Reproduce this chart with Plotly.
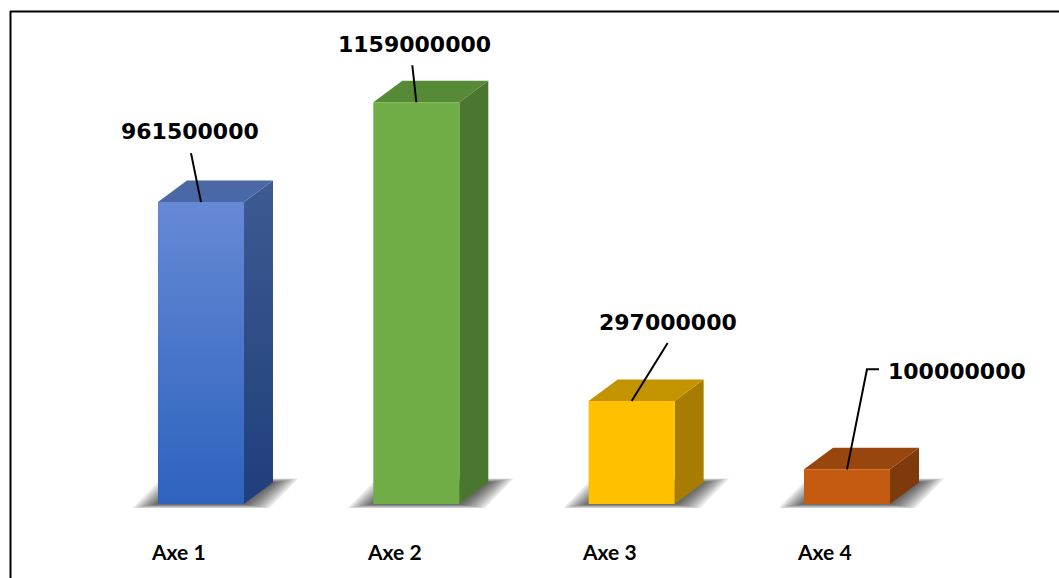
import plotly.graph_objects as go

# ---------------- data ----------------
categories = ["Axe 1", "Axe 2", "Axe 3", "Axe 4"]
values = [871e6, 1159e6, 297e6, 100e6]          # bar heights as drawn
value_labels = ["961500000", "1159000000", "297000000", "100000000"]

front_top = ["#6589d5", "#70ad47", "#ffc000", "#c55a11"]
front_bot = ["#2e62bd", "#70ad47", "#ffc000", "#c55a11"]
side_top = ["#3e5a92", "#4b7630", "#a67d00", "#7f3a0b"]
side_bot = ["#1f3e7c", "#4b7630", "#a67d00", "#7f3a0b"]
top_col = ["#4a67a6", "#578a37", "#c49300", "#99450e"]

# ---------------- geometry ----------------
W, H = 1059, 578
X0, X1 = -0.9334, 3.9846
Y0, Y1 = -213.5e6, 1454e6
SX = W / (X1 - X0)          # px per x unit
SY = H / (Y1 - Y0)          # px per y unit


def dxu(p):
    return p / SX


def dyu(p):
    return p / SY


HALF = dxu(43)
DX = dxu(29)
DY = dyu(21.5)

# label offsets (px, right / up) from front-top centre of each bar
label_off = [(-11, 71), (-2, 58), (36, 79), (110, 98)]
leader_pts = [[(-10, 49)], [(-4, 37)], [(36, 58)], [(20, 100), (32, 100)]]
axis_label_dx = -22
axis_label_y = 551

fig = go.Figure()

# shadows
for i, v in enumerate(values):
    xl, xr = i - HALF, i + HALF
    for k in range(9):
        e = dxu(3 + 2.8 * k)
        ey = dyu(0.5 + 0.45 * k)
        xs = [xl - e, xr + e, xr + DX + e, xl + DX - e, xl - e]
        ys = [-ey, -ey, DY + ey, DY + ey, -ey]
        fig.add_trace(go.Scatter(x=xs, y=ys, fill="toself", mode="lines",
                                 line=dict(width=0), fillcolor="rgba(0,0,0,0.09)",
                                 hoverinfo="skip", showlegend=False))

# bars
for i, v in enumerate(values):
    xl, xr = i - HALF, i + HALF
    # side face
    fig.add_trace(go.Scatter(
        x=[xr, xr + DX, xr + DX, xr, xr], y=[0, DY, v + DY, v, 0],
        fill="toself", mode="lines", line=dict(width=0),
        fillgradient=dict(type="vertical", colorscale=[[0, side_bot[i]], [1, side_top[i]]]),
        hoverinfo="skip", showlegend=False))
    # top face
    fig.add_trace(go.Scatter(
        x=[xl, xr, xr + DX, xl + DX, xl], y=[v, v, v + DY, v + DY, v],
        fill="toself", mode="lines", line=dict(width=0), fillcolor=top_col[i],
        hoverinfo="skip", showlegend=False))
    # front face
    fig.add_trace(go.Scatter(
        x=[xl, xr, xr, xl, xl], y=[0, 0, v, v, 0],
        fill="toself", mode="lines", line=dict(width=0),
        fillgradient=dict(type="vertical", colorscale=[[0, front_bot[i]], [1, front_top[i]]]),
        hoverinfo="skip", showlegend=False))

# leader lines and value labels
for i, v in enumerate(values):
    xs = [i] + [i + dxu(p[0]) for p in leader_pts[i]]
    ys = [v] + [v + dyu(p[1]) for p in leader_pts[i]]
    fig.add_trace(go.Scatter(x=xs, y=ys, mode="lines",
                             line=dict(color="black", width=2),
                             hoverinfo="skip", showlegend=False))
    fig.add_annotation(x=i + dxu(label_off[i][0]), y=v + dyu(label_off[i][1]),
                       text="<b>%s</b>" % value_labels[i], showarrow=False,
                       xanchor="center", yanchor="middle",
                       font=dict(family="DejaVu Sans", size=22, color="black"))

# category labels
for i, c in enumerate(categories):
    fig.add_annotation(x=i + dxu(axis_label_dx), y=1 - axis_label_y / H, yref="paper",
                       text="<b>%s</b>" % c, showarrow=False,
                       xanchor="center", yanchor="middle",
                       font=dict(family="Lato", size=21, color="black"))

# border
fig.add_shape(type="line", xref="paper", yref="paper",
              x0=10.5 / W, x1=10.5 / W, y0=-0.05, y1=1 - 11 / H,
              line=dict(color="black", width=2))
fig.add_shape(type="line", xref="paper", yref="paper",
              x0=10 / W, x1=1.05, y0=1 - 11.5 / H, y1=1 - 11.5 / H,
              line=dict(color="black", width=2))

fig.update_layout(
    width=W, height=H, margin=dict(l=0, r=0, t=0, b=0),
    paper_bgcolor="white", plot_bgcolor="white",
    xaxis=dict(range=[X0, X1], visible=False, fixedrange=True),
    yaxis=dict(range=[Y0, Y1], visible=False, fixedrange=True),
    showlegend=False,
)

fig.write_html("out.html")
